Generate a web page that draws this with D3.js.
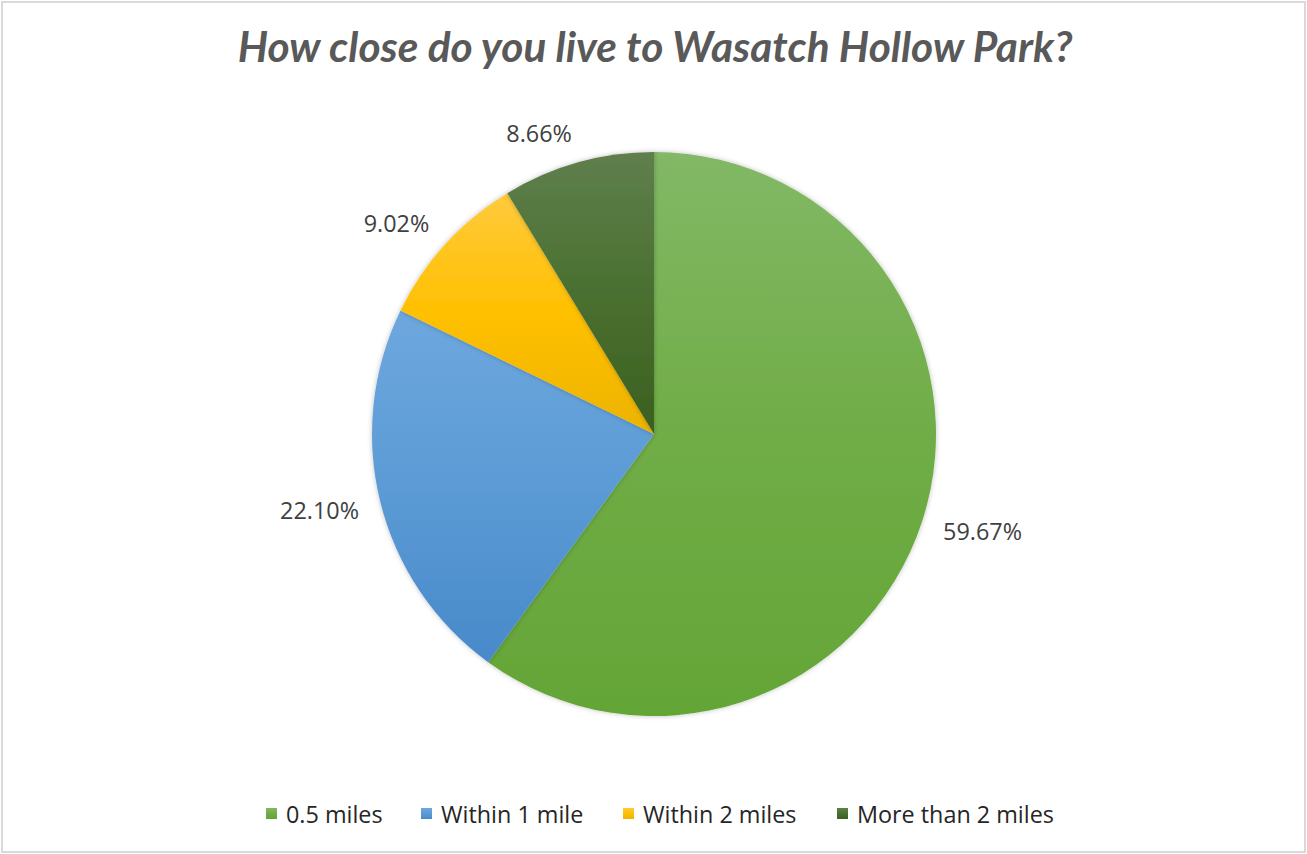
<!DOCTYPE html>
<html>
<head>
<meta charset="utf-8">
<script src="https://cdn.jsdelivr.net/npm/d3@7"></script>
<style>
html,body{margin:0;padding:0;background:#fff;}
svg{display:block;}
</style>
</head>
<body>
<svg id="chart" width="1307" height="854"></svg>
<script>
const categories = ["0.5 miles", "Within 1 mile", "Within 2 miles", "More than 2 miles"];
const values = [59.67, 22.10, 9.02, 8.66];
const labels = ["59.67%", "22.10%", "9.02%", "8.66%"];
const title = "How close do you live to Wasatch Hollow Park?";
const topColors = ["#82b866", "#6ea7de", "#ffca3d", "#5f7f4d"];
const baseColors = ["#70ad47", "#5b9bd5", "#ffc000", "#4a7030"];
const bottomColors = ["#64a536", "#4889ca", "#ecb300", "#3b6020"];

const W = 1307, H = 854;
const svg = d3.select("#chart");
const font = "Lato, 'Open Sans', 'Liberation Sans', sans-serif";
const font2 = "'Open Sans', Lato, 'Liberation Sans', sans-serif";

svg.append("rect").attr("x", 2).attr("y", 2).attr("width", W - 4).attr("height", H - 4)
  .attr("fill", "#fff").attr("stroke", "#d9d9d9").attr("stroke-width", 2);

const defs = svg.append("defs");
categories.forEach((c, i) => {
  const g = defs.append("linearGradient").attr("id", "grad" + i)
    .attr("x1", 0).attr("y1", 0).attr("x2", 0).attr("y2", 1);
  g.append("stop").attr("offset", "0%").attr("stop-color", topColors[i]);
  g.append("stop").attr("offset", "50%").attr("stop-color", baseColors[i]);
  g.append("stop").attr("offset", "100%").attr("stop-color", bottomColors[i]);
});
const f = defs.append("filter").attr("id", "shadow").attr("x", "-10%").attr("y", "-10%").attr("width", "120%").attr("height", "120%");
f.append("feDropShadow").attr("dx", 0).attr("dy", 0).attr("stdDeviation", 2.5).attr("flood-color", "#000").attr("flood-opacity", 0.25);

// title
const t = svg.append("text").attr("x", 655).attr("y", 62).attr("text-anchor", "middle")
  .attr("font-family", font).attr("font-weight", "bold").attr("font-style", "italic")
  .attr("font-size", 36).attr("fill", "#595959").text(title);
const tw = t.node().getComputedTextLength();
t.attr("font-size", 36 * 835 / tw);

const cx = 654, cy = 434, r = 282;
const pie = d3.pie().sort(null).value(d => d)(values);
const arc = d3.arc().innerRadius(0).outerRadius(r);

const g = svg.append("g").attr("transform", `translate(${cx},${cy})`);
g.selectAll("path").data(pie).join("path")
  .attr("d", arc)
  .attr("fill", (d, i) => `url(#grad${i})`)
  .attr("filter", "url(#shadow)");

const probe = svg.append("text").attr("font-family", font2).attr("font-size", 20).text("59.67%");
const labelSize = 20 * 79 / probe.node().getComputedTextLength();
probe.remove();

// outside-end labels: anchor point just outside the rim, box pushed away horizontally
const gap = 22, hh = 9;
pie.forEach((d, i) => {
  const a = (d.startAngle + d.endAngle) / 2;
  const s = Math.sin(a), c = Math.cos(a);
  const txt = g.append("text").attr("font-family", font2).attr("font-size", labelSize)
    .attr("fill", "#404040").attr("text-anchor", "middle").attr("dominant-baseline", "central")
    .text(labels[i]);
  const hw = txt.node().getComputedTextLength() / 2;
  const R0 = r + gap;
  const x = R0 * s + hw * Math.sign(s);
  const y = -R0 * c - hh * c;
  txt.attr("x", x).attr("y", y);
});

// legend
const legY = 814;
const legX = [266, 421, 623, 837];
const probe2 = svg.append("text").attr("font-family", font2).attr("font-size", 20).text(categories[3]);
const legSize = 20 * 197 / probe2.node().getComputedTextLength();
probe2.remove();
categories.forEach((c, i) => {
  svg.append("rect").attr("x", legX[i]).attr("y", legY - 6).attr("width", 11).attr("height", 11)
    .attr("fill", `url(#grad${i})`);
  svg.append("text").attr("x", legX[i] + 20).attr("y", legY).attr("dominant-baseline", "central")
    .attr("font-family", font2).attr("font-size", legSize).attr("fill", "#262626").text(c);
});
</script>
</body>
</html>
